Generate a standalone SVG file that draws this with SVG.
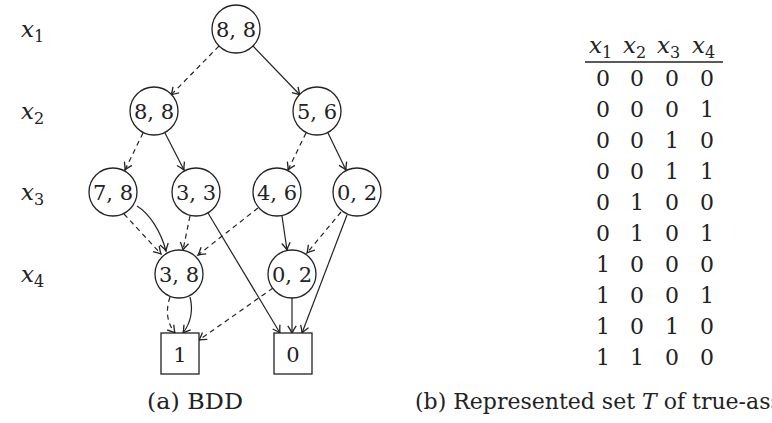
<svg xmlns="http://www.w3.org/2000/svg" width="772" height="423" viewBox="0 0 772 423">
<style>
text{font-family:'DejaVu Serif','Liberation Serif',serif;fill:#222;}
.nt{font-size:21px;text-anchor:middle;}
.v{font-size:23px;font-style:italic;}
.sub{font-size:16px;font-style:normal;}
.cell{font-size:22px;text-anchor:middle;}
.cap{font-size:22px;}
.node circle,.node rect{fill:#fff;stroke:#222;stroke-width:1.3;}
.e{fill:none;stroke:#222;stroke-width:1.2;marker-end:url(#arr);}
.d{stroke-dasharray:5,4;}
</style>
<defs>
<marker id="arr" markerUnits="userSpaceOnUse" markerWidth="12" markerHeight="12" viewBox="-8 -5 10 10" refX="0" refY="0" orient="auto">
<path d="M-6,-3.5 Q-2,-0.8 0,0 Q-2,0.8 -6,3.5" fill="none" stroke="#222" stroke-width="1.1"/>
</marker>
</defs>
<rect width="772" height="423" fill="#fff"/>

<g id="levels">
<text class="v" x="21" y="37">x<tspan class="sub" dy="5">1</tspan></text>
<text class="v" x="21" y="119">x<tspan class="sub" dy="5">2</tspan></text>
<text class="v" x="21" y="200">x<tspan class="sub" dy="5">3</tspan></text>
<text class="v" x="21" y="282">x<tspan class="sub" dy="5">4</tspan></text>
</g>

<g id="connectors">
<line class="e d" x1="219" y1="46" x2="171" y2="95"/>
<line class="e" x1="253" y1="46" x2="300" y2="95"/>
<line class="e d" x1="143" y1="133" x2="125" y2="170"/>
<line class="e" x1="165" y1="133" x2="184" y2="170"/>
<line class="e d" x1="306" y1="133" x2="288" y2="170"/>
<line class="e" x1="328" y1="133" x2="346" y2="170"/>
<line class="e d" x1="124" y1="214" x2="161" y2="254"/>
<path class="e" d="M137,206 C150,214 161,232 166,251"/>
<line class="e d" x1="190" y1="216" x2="183" y2="250"/>
<line class="e" x1="208" y1="213" x2="280" y2="333"/>
<line class="e d" x1="258" y1="208" x2="198" y2="255"/>
<line class="e" x1="282" y1="216" x2="287" y2="250"/>
<line class="e d" x1="341" y1="212" x2="307" y2="253"/>
<line class="e" x1="347" y1="215" x2="302" y2="333"/>
<path class="e d" d="M170,297 Q163,318 175,333"/>
<path class="e" d="M190,297 Q195,317 183,333"/>
<line class="e d" x1="273" y1="288" x2="199" y2="340"/>
<line class="e" x1="292" y1="298" x2="292" y2="333"/>
</g>

<g id="n_root" class="node"><circle cx="236" cy="29" r="24"/><text class="nt" x="236" y="37">8, 8</text></g>
<g id="n_x2a" class="node"><circle cx="154" cy="111" r="24"/><text class="nt" x="154" y="119">8, 8</text></g>
<g id="n_x2b" class="node"><circle cx="317" cy="111" r="24"/><text class="nt" x="317" y="119">5, 6</text></g>
<g id="n_x3a" class="node"><circle cx="113" cy="192" r="24"/><text class="nt" x="113" y="200">7, 8</text></g>
<g id="n_x3b" class="node"><circle cx="196" cy="192" r="24"/><text class="nt" x="196" y="200">3, 3</text></g>
<g id="n_x3c" class="node"><circle cx="277" cy="192" r="24"/><text class="nt" x="277" y="200">4, 6</text></g>
<g id="n_x3d" class="node"><circle cx="357" cy="192" r="24"/><text class="nt" x="357" y="200">0, 2</text></g>
<g id="n_x4a" class="node"><circle cx="179" cy="274" r="24"/><text class="nt" x="179" y="282">3, 8</text></g>
<g id="n_x4b" class="node"><circle cx="292" cy="274" r="24"/><text class="nt" x="292" y="282">0, 2</text></g>
<g id="n_t1" class="node"><rect x="161" y="333" width="38" height="41"/><text class="nt" x="180" y="362">1</text></g>
<g id="n_t0" class="node"><rect x="274" y="333" width="38" height="41"/><text class="nt" x="293" y="362">0</text></g>

<text class="cap" x="147" y="409" textLength="96" lengthAdjust="spacingAndGlyphs">(a) BDD</text>

<g id="table">
<text class="v" x="589" y="53">x<tspan class="sub" dy="5">1</tspan></text>
<text class="v" x="623" y="53">x<tspan class="sub" dy="5">2</tspan></text>
<text class="v" x="657" y="53">x<tspan class="sub" dy="5">3</tspan></text>
<text class="v" x="692" y="53">x<tspan class="sub" dy="5">4</tspan></text>
<line x1="585" y1="62" x2="723" y2="62" stroke="#222" stroke-width="1.3"/>
<g class="cell">
<text x="603" y="86">0</text><text x="637" y="86">0</text><text x="672" y="86">0</text><text x="707" y="86">0</text>
<text x="603" y="117">0</text><text x="637" y="117">0</text><text x="672" y="117">0</text><text x="707" y="117">1</text>
<text x="603" y="148">0</text><text x="637" y="148">0</text><text x="672" y="148">1</text><text x="707" y="148">0</text>
<text x="603" y="179">0</text><text x="637" y="179">0</text><text x="672" y="179">1</text><text x="707" y="179">1</text>
<text x="603" y="210">0</text><text x="637" y="210">1</text><text x="672" y="210">0</text><text x="707" y="210">0</text>
<text x="603" y="241">0</text><text x="637" y="241">1</text><text x="672" y="241">0</text><text x="707" y="241">1</text>
<text x="603" y="272">1</text><text x="637" y="272">0</text><text x="672" y="272">0</text><text x="707" y="272">0</text>
<text x="603" y="303">1</text><text x="637" y="303">0</text><text x="672" y="303">0</text><text x="707" y="303">1</text>
<text x="603" y="334">1</text><text x="637" y="334">0</text><text x="672" y="334">1</text><text x="707" y="334">0</text>
<text x="603" y="365">1</text><text x="637" y="365">1</text><text x="672" y="365">0</text><text x="707" y="365">0</text>
</g>
</g>

<text class="cap" x="415" y="409">(b) Represented set <tspan font-style="italic">T</tspan> of true-assignments</text>
</svg>
